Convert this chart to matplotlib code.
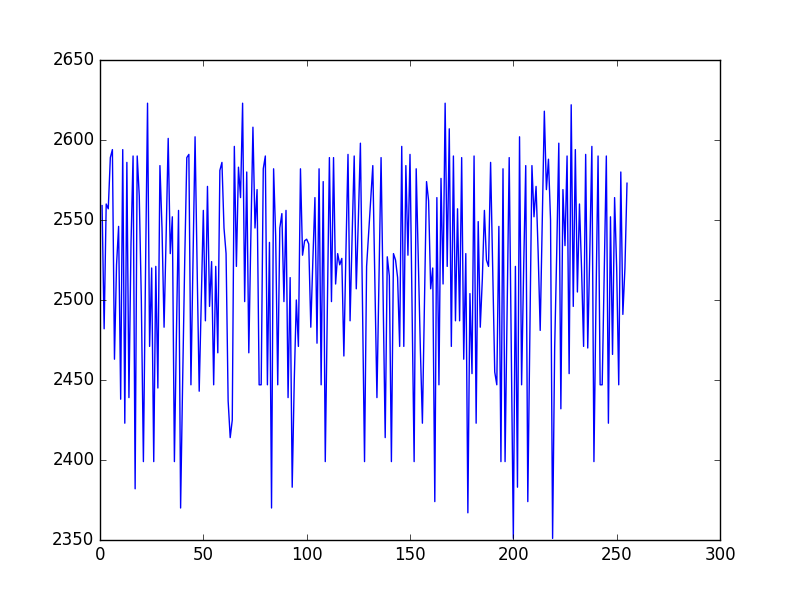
import matplotlib
matplotlib.use("Agg")
import matplotlib.pyplot as plt
import numpy as np

values = [
    2559, 2482, 2560, 2557, 2589, 2594, 2463, 2522, 2546, 2438,
    2594, 2423, 2586, 2439, 2535, 2590, 2382, 2590, 2565, 2500,
    2399, 2515, 2623, 2471, 2520, 2399, 2521, 2445, 2584, 2545,
    2483, 2540, 2601, 2529, 2552, 2399, 2480, 2556, 2370, 2450,
    2525, 2589, 2591, 2447, 2525, 2602, 2520, 2443, 2500, 2556,
    2487, 2571, 2496, 2524, 2447, 2521, 2467, 2581, 2586, 2545,
    2529, 2437, 2414, 2425, 2596, 2521, 2583, 2564, 2623, 2499,
    2580, 2467, 2540, 2608, 2545, 2569, 2447, 2447, 2582, 2590,
    2447, 2536, 2370, 2582, 2540, 2447, 2545, 2554, 2499, 2556,
    2439, 2514, 2383, 2450, 2500, 2471, 2582, 2528, 2537, 2538,
    2535, 2483, 2525, 2564, 2473, 2582, 2447, 2574, 2399, 2495,
    2589, 2499, 2589, 2510, 2529, 2522, 2526, 2465, 2530, 2591,
    2487, 2540, 2590, 2507, 2550, 2598, 2500, 2399, 2521, 2542,
    2563, 2584, 2510, 2439, 2515, 2589, 2500, 2414, 2527, 2515,
    2399, 2529, 2525, 2514, 2471, 2596, 2471, 2584, 2528, 2591,
    2495, 2399, 2582, 2525, 2470, 2423, 2500, 2574, 2562, 2507,
    2520, 2374, 2564, 2447, 2576, 2510, 2623, 2521, 2607, 2471,
    2590, 2487, 2557, 2487, 2589, 2463, 2529, 2367, 2504, 2454,
    2590, 2423, 2549, 2483, 2513, 2556, 2525, 2521, 2586, 2520,
    2455, 2447, 2546, 2399, 2582, 2399, 2495, 2589, 2470, 2351,
    2521, 2383, 2602, 2447, 2520, 2584, 2374, 2480, 2584, 2552,
    2571, 2530, 2481, 2550, 2618, 2569, 2588, 2550, 2351, 2470,
    2530, 2598, 2432, 2569, 2534, 2590, 2454, 2622, 2496, 2594,
    2505, 2560, 2520, 2471, 2591, 2470, 2530, 2596, 2399, 2500,
    2590, 2447, 2447, 2520, 2590, 2423, 2552, 2466, 2564, 2520,
    2447, 2580, 2491, 2520, 2573,
]
x_values = np.arange(1, len(values) + 1)

x_ticks = [0, 50, 100, 150, 200, 250, 300]
y_ticks = [2350, 2400, 2450, 2500, 2550, 2600, 2650]

plt.style.use("classic")
fig = plt.figure(figsize=(8, 6), dpi=100, facecolor="white")
ax = fig.add_axes([0.125, 0.1, 0.775, 0.8])
ax.plot(x_values, values, color="b", linewidth=1.0)
ax.set_xlim(0, 300)
ax.set_ylim(2350, 2650)
ax.set_xticks(x_ticks)
ax.set_yticks(y_ticks)
fig.savefig("out.png", dpi=100, facecolor="white")
